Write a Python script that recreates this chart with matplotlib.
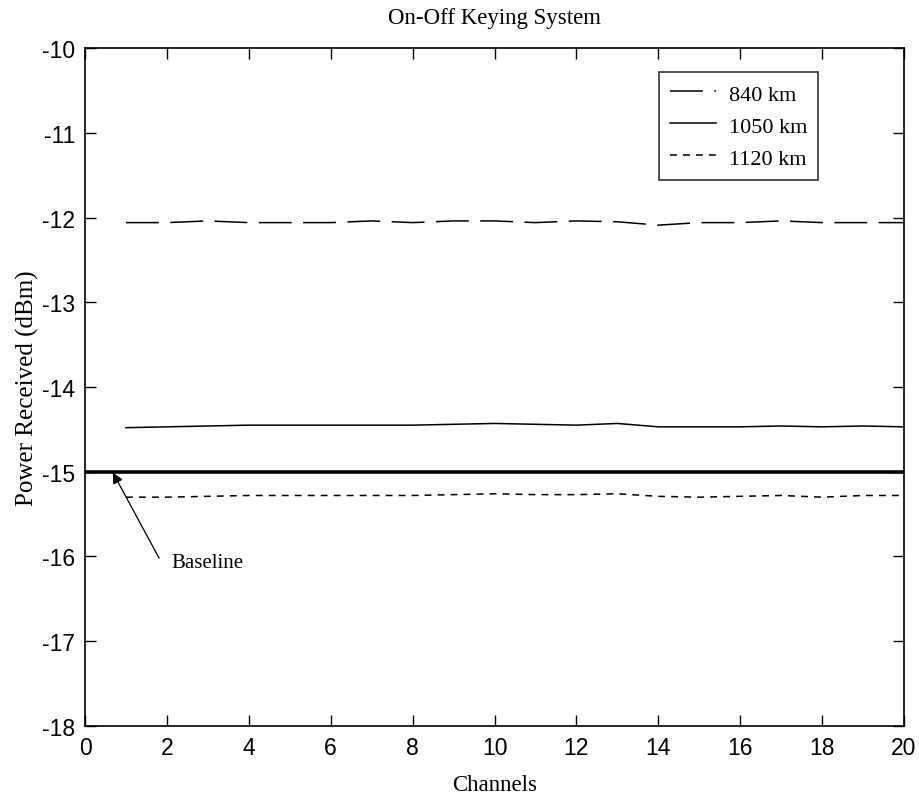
import matplotlib
matplotlib.use("Agg")
import matplotlib.pyplot as plt

plt.rcParams["axes.unicode_minus"] = False

channels = list(range(1, 21))
p_840 = [-12.06, -12.06, -12.04, -12.06, -12.06, -12.06, -12.04, -12.06, -12.04, -12.04,
         -12.06, -12.04, -12.05, -12.09, -12.06, -12.06, -12.04, -12.06, -12.06, -12.06]
p_1050 = [-14.48, -14.47, -14.46, -14.45, -14.45, -14.45, -14.45, -14.45, -14.44, -14.43,
          -14.44, -14.45, -14.43, -14.47, -14.47, -14.47, -14.46, -14.47, -14.46, -14.47]
p_1120 = [-15.30, -15.30, -15.29, -15.28, -15.28, -15.28, -15.28, -15.28, -15.27, -15.26,
          -15.27, -15.27, -15.26, -15.29, -15.30, -15.29, -15.28, -15.30, -15.28, -15.28]
baseline_x = [0, 20]
baseline_y = [-15, -15]

serif = "Liberation Serif"
sans = "Liberation Sans"

fig = plt.figure(figsize=(9.19, 8.04), dpi=100)
ax = fig.add_axes([0.0925, 0.0958, 0.8912, 0.8432])

ax.plot(channels, p_840, color="black", lw=1.1, dashes=(21.5, 7.5), label="840 km")
ax.plot(channels, p_1050, color="black", lw=1.1, label="1050 km")
ax.plot(channels, p_1120, color="black", lw=1.1, dashes=(4.5, 4), label="1120 km")
ax.plot(baseline_x, baseline_y, color="black", lw=2.6)

# baseline label and its arrow
ax.text(2.1, -16.07, "Baseline", fontsize=15, family=serif, va="center", ha="left")
ax.annotate("", xy=(0.68, -15.01), xytext=(1.81, -16.02),
            arrowprops=dict(arrowstyle="-|>", color="black", lw=0.9,
                            mutation_scale=16, shrinkA=0, shrinkB=0))

ax.set_xlim(0, 20)
ax.set_ylim(-18, -10)
ax.set_xticks(range(0, 21, 2))
ax.set_yticks(range(-18, -9))
ax.tick_params(direction="in", length=8, width=1, top=True, right=True,
               labelsize=16.5, pad=7)
for lab in ax.get_xticklabels() + ax.get_yticklabels():
    lab.set_family(sans)
for s in ax.spines.values():
    s.set_linewidth(1.2)

ax.set_title("On-Off Keying System", family=serif, fontsize=16.5, pad=18)
ax.set_xlabel("Channels", family=serif, fontsize=16.5, labelpad=11)
ax.set_ylabel("Power Received (dBm)", family=serif, fontsize=18, labelpad=2)

leg = ax.legend(loc="upper right", bbox_to_anchor=(0.895, 0.965),
                prop={"family": serif, "size": 16}, frameon=True, fancybox=False,
                edgecolor="black", handlelength=2.1, borderpad=0.5,
                labelspacing=0.45, handletextpad=0.55, borderaxespad=0,
                handleheight=0.9)
leg.get_frame().set_linewidth(1.2)

fig.savefig("out.png", dpi=100, facecolor="white")
